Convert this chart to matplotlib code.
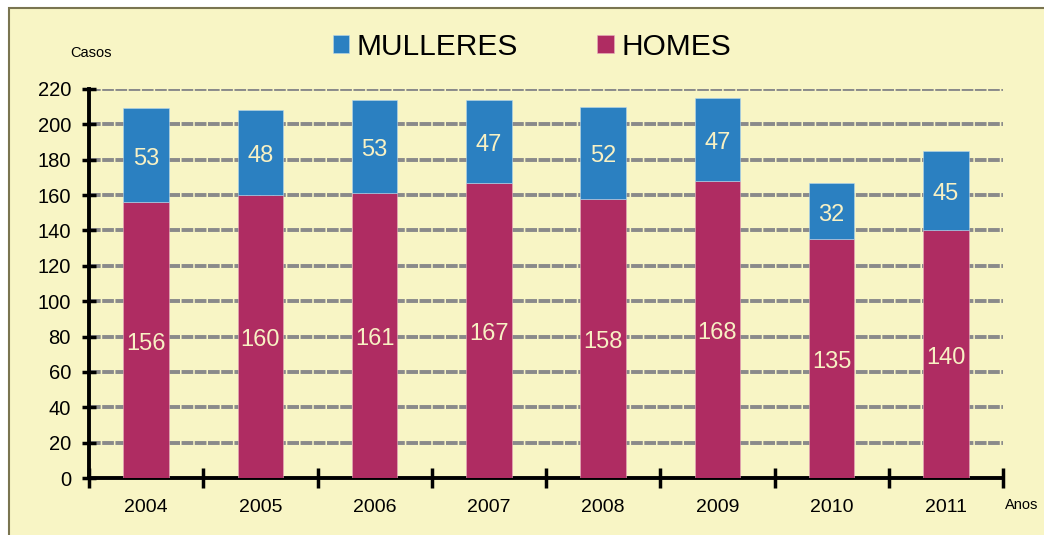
import numpy as np
import matplotlib
matplotlib.use('Agg')
from matplotlib import pyplot as plt
from matplotlib.patches import Rectangle

anos = ['2004', '2005', '2006', '2007', '2008', '2009', '2010', '2011']
homes = [156, 160, 161, 167, 158, 168, 135, 140]
mulleres = [53, 48, 53, 47, 52, 47, 32, 45]
y_ticks = [0, 20, 40, 60, 80, 100, 120, 140, 160, 180, 200, 220]

fondo = '#F8F5C5'
azul = '#2B80C1'
granate = '#AF2C62'
texto_barra = '#F8F1C4'

plt.rcParams['font.family'] = ['Liberation Sans', 'DejaVu Sans']

fig = plt.figure(figsize=(10.44, 5.35), dpi=100)
fig.patch.set_facecolor('white')

# fondo amarelo con bordo (sae polo lado dereito e por abaixo)
fig.patches.append(Rectangle((9 / 1044, -0.05), 1.1, 1.05 - 8 / 535, transform=fig.transFigure,
                             facecolor=fondo, edgecolor='#7A7550', linewidth=1.5, zorder=-5))

ax = fig.add_axes([89 / 1044, 1 - 478 / 535, (1003 - 89) / 1044, (478 - 89) / 535])
ax.set_facecolor('none')
ax.set_zorder(2)

x = np.arange(len(anos))
ancho = 0.4
b1 = ax.bar(x, homes, ancho, color=granate, edgecolor='#E8B0C0', linewidth=0.4, zorder=3, label='HOMES')
b2 = ax.bar(x, mulleres, ancho, bottom=homes, color=azul, edgecolor='#B8D8EE', linewidth=0.4, zorder=3, label='MULLERES')

# as etiquetas van un pouco por debaixo do centro
for i in range(len(anos)):
    ax.text(x[i], homes[i] / 2 - 2, str(homes[i]), ha='center', va='center', color=texto_barra,
            fontsize=17, family=['Liberation Sans Narrow', 'Liberation Sans'], zorder=4)
    ax.text(x[i], homes[i] + mulleres[i] / 2 - 2, str(mulleres[i]), ha='center', va='center', color=texto_barra,
            fontsize=17, family=['Liberation Sans Narrow', 'Liberation Sans'], zorder=4)

ax.set_xlim(-0.5, len(anos) - 0.5)
ax.set_ylim(0, 220)

ax.set_yticks(y_ticks)
ax.set_yticklabels([str(v) for v in y_ticks], fontsize=14.5)
for v in y_ticks[1:]:
    ax.axhline(v, color='#8A8A8A', linewidth=2.8, linestyle=(0, (3.0, 0.4)), zorder=1)

ax.set_xticks(x)
ax.set_xticklabels(anos, fontsize=14)
ax.tick_params(axis='x', which='major', length=0, pad=15)
ax.set_xticks(np.arange(-0.5, len(anos), 1.0), minor=True)
ax.tick_params(axis='x', which='minor', direction='inout', length=14, width=2.5)
ax.tick_params(axis='y', direction='inout', length=10, width=2.5, pad=8)

for s in ['top', 'right']:
    ax.spines[s].set_visible(False)
ax.spines['left'].set_linewidth(2.8)
ax.spines['bottom'].set_linewidth(2.8)

fig.text(70 / 1044, 1 - 53 / 535, 'Casos', fontsize=10.5, va='center', ha='left')
fig.text(1005 / 1044, 1 - 505 / 535, 'Anos', fontsize=10.5, va='center', ha='left')

leg = fig.legend(handles=[b2, b1], labels=['MULLERES', 'HOMES'], loc='center',
                 bbox_to_anchor=(532 / 1044, 1 - 47 / 535), ncol=2, frameon=False,
                 fontsize=21.5, handlelength=0.55, handleheight=0.55, handletextpad=0.25,
                 columnspacing=2.65)

fig.savefig('out.png', dpi=100, facecolor=fig.get_facecolor())
